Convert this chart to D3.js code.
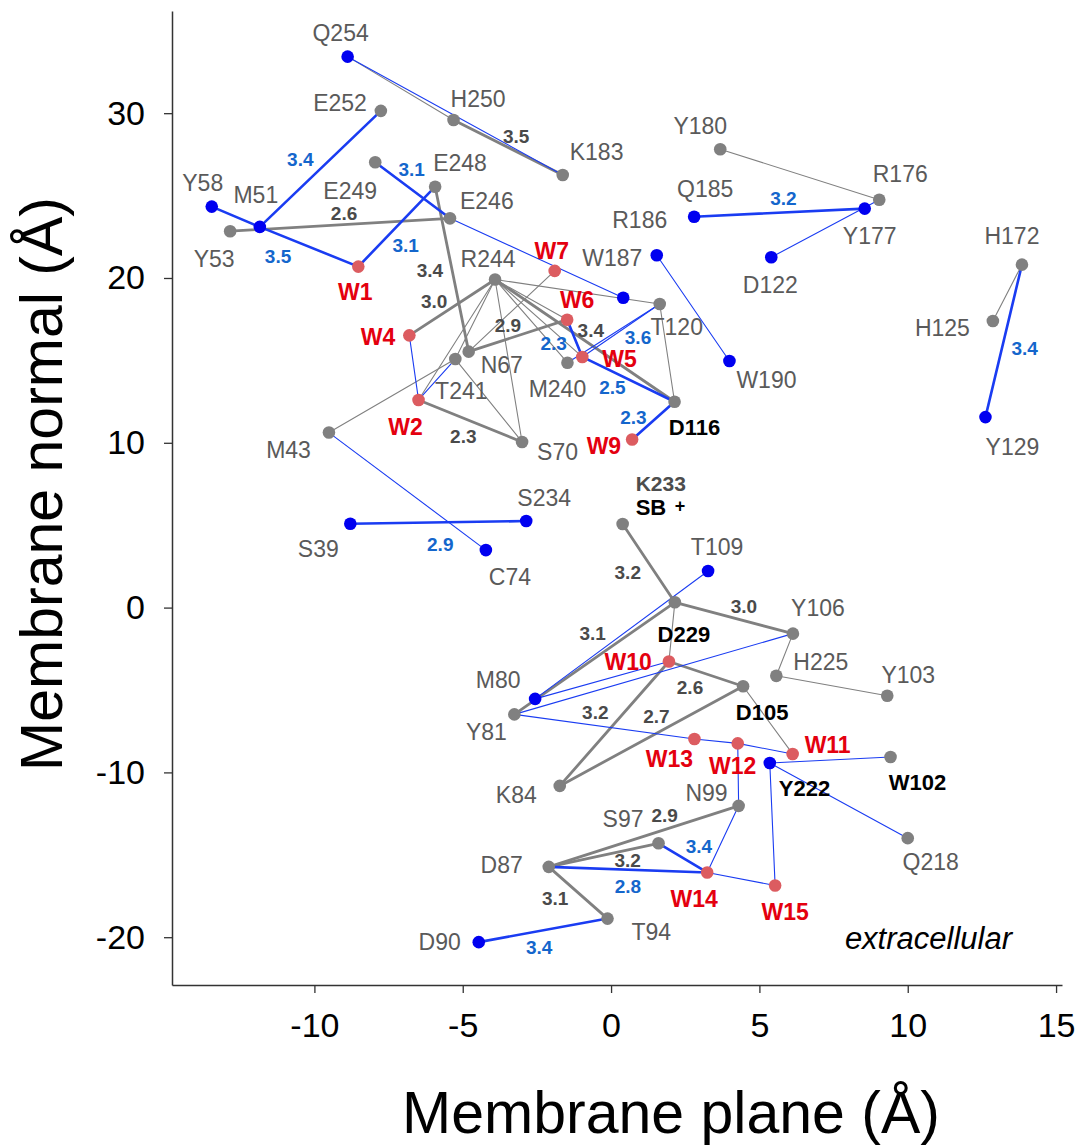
<!DOCTYPE html>
<html>
<head>
<meta charset="utf-8">
<script src="https://cdn.jsdelivr.net/npm/d3@7"></script>
<style>
  body { margin: 0; background: #fff; }
  svg text { font-family: "Liberation Sans", Arial, Helvetica, sans-serif; }
</style>
</head>
<body>
<svg id="chart" width="1081" height="1146"></svg>
<script>
// residues (membrane plane x, membrane normal y), in Angstrom
const blueRes = [
  ["Q254", -8.88, 33.43], ["Y58", -13.46, 24.33], ["M51", -11.84, 23.10],
  ["W187", 0.41, 18.80], ["R186", 1.54, 21.38], ["Q185", 2.80, 23.72],
  ["Y177", 8.55, 24.21], ["D122", 5.40, 21.26], ["W190", 3.99, 14.96],
  ["Y129", 12.62, 11.56], ["S39", -8.79, 5.09], ["S234", -2.86, 5.25],
  ["C74", -4.22, 3.49], ["T109", 3.27, 2.22], ["M80", -2.56, -5.54],
  ["Y222", 5.35, -9.43], ["D90", -4.46, -20.30]
];
const grayRes = [
  ["E252", -7.76, 30.14], ["H250", -5.31, 29.59], ["K183", -1.63, 26.25],
  ["E249", -7.95, 27.02], ["E248", -5.93, 25.54], ["E246", -5.43, 23.62],
  ["Y53", -12.84, 22.84], ["R244", -3.91, 19.91], ["Y180", 3.68, 27.81],
  ["R176", 9.04, 24.75], ["H172", 13.85, 20.81], ["H125", 12.87, 17.39],
  ["T120", 1.64, 18.42], ["D116", 2.14, 12.49], ["N67", -4.80, 15.53],
  ["T241", -5.25, 15.08], ["M240", -1.47, 14.86], ["S70", -3.00, 10.05],
  ["M43", -9.51, 10.62], ["K233", 0.39, 5.07], ["D229", 2.15, 0.32],
  ["Y106", 6.13, -1.58], ["H225", 5.57, -4.14], ["D105", 4.45, -4.77],
  ["Y103", 9.31, -5.35], ["Y81", -3.26, -6.48], ["W102", 9.42, -9.07],
  ["K84", -1.73, -10.82], ["N99", 4.30, -12.03], ["Q218", 10.00, -13.99],
  ["S97", 1.60, -14.30], ["D87", -2.10, -15.73], ["T94", -0.12, -18.87]
];
const waters = [
  ["W1", -8.52, 20.69], ["W7", -1.90, 20.43], ["W6", -1.48, 17.47],
  ["W4", -6.80, 16.52], ["W5", -0.97, 15.21], ["W2", -6.49, 12.60],
  ["W9", 0.71, 10.20], ["W10", 1.95, -3.27], ["W13", 2.81, -7.97],
  ["W12", 4.27, -8.24], ["W11", 6.12, -8.88], ["W14", 3.24, -16.07],
  ["W15", 5.53, -16.86]
];

// contacts: [from, to, distance label or ""]
const grayThick = [
  ["H250", "K183", "3.5"], ["Y53", "E246", "2.6"], ["E248", "N67", "3.4"],
  ["R244", "W4", "3.0"], ["N67", "W6", "2.9"], ["R244", "D116", "3.4"],
  ["W2", "S70", "2.3"], ["K233", "D229", "3.2"], ["Y81", "D229", "3.1"],
  ["D229", "Y106", "3.0"], ["W10", "D105", "2.6"], ["K84", "W10", "3.2"],
  ["K84", "D105", "2.7"], ["D87", "N99", "2.9"], ["D87", "S97", "3.2"],
  ["D87", "T94", "3.1"]
];
const grayThin = [
  ["Q254", "H250"], ["R244", "T241"], ["R244", "W2"], ["R244", "S70"],
  ["R244", "T120"], ["R244", "W6"], ["R244", "M240"], ["R244", "W5"],
  ["W7", "N67"], ["M43", "T241"], ["T241", "S70"], ["T120", "D116"],
  ["Y180", "R176"], ["H172", "H125"], ["D229", "W10"], ["Y106", "H225"],
  ["H225", "Y103"], ["D105", "W11"]
];
const blueThick = [
  ["M51", "E252", "3.4"], ["Y58", "M51", ""], ["M51", "W1", "3.5"],
  ["W1", "E248", "3.1"], ["E249", "E246", "3.1"], ["Q185", "Y177", "3.2"],
  ["H172", "Y129", "3.4"], ["W6", "W5", "2.3"], ["W5", "D116", "2.5"],
  ["W9", "D116", "2.3"], ["S39", "S234", "2.9"], ["S97", "W14", "3.4"],
  ["D87", "W14", "2.8"], ["D90", "T94", "3.4"]
];
const blueThin = [
  ["Q254", "K183"], ["E246", "W187"], ["W4", "W2"], ["W2", "T241"],
  ["W5", "T120", "3.6"], ["M240", "T120"], ["R186", "W190"], ["D122", "R176"],
  ["M43", "C74"], ["M80", "T109"], ["M80", "W10"], ["Y81", "Y106"],
  ["Y81", "W13"], ["W13", "W12"], ["W12", "W11"], ["Y222", "W102"],
  ["Y222", "Q218"], ["Y222", "W15"], ["W12", "N99"], ["N99", "W14"],
  ["W14", "W15"]
];

const xTicks = [-10, -5, 0, 5, 10, 15];
const yTicks = [-20, -10, 0, 10, 20, 30];
const boldBlack = ["D116", "D229", "D105", "Y222", "W102"];

// label placement: [anchor, dx, dy] in px from the dot
const labelPos = {
  Q254: ["middle", -7, -16], E252: ["end", -14, 0], H250: ["start", -3, -13],
  K183: ["start", 7, -15], E249: ["middle", -25, 37], E248: ["start", -2, -16],
  E246: ["start", 10, -9], Y58: ["middle", -9, -16], M51: ["middle", -4, -24],
  Y53: ["middle", -16, 36], W1: ["middle", -3, 33], W7: ["middle", -3, -12],
  R244: ["middle", -7, -12], W187: ["middle", -11, -32], R186: ["middle", -17, -27],
  T120: ["middle", 17, 31], Y180: ["middle", -20, -15], R176: ["middle", 21, -18],
  Q185: ["middle", 11, -20], Y177: ["middle", 5, 35], D122: ["middle", -1, 36],
  H172: ["middle", -10, -21], H125: ["end", -23, 15], Y129: ["middle", 27, 38],
  W190: ["middle", 37, 27], D116: ["middle", 20, 33], W9: ["end", -11, 15],
  W6: ["middle", 10, -12], W4: ["end", -14, 10], N67: ["start", 12, 21],
  T241: ["middle", 6, 40], M240: ["middle", -10, 34], W5: ["start", 20, 10],
  W2: ["middle", -13, 35], S70: ["start", 15, 18], M43: ["end", -18, 25],
  S39: ["middle", -32, 33], S234: ["middle", 18, -15], C74: ["middle", 24, 35],
  K233: ["start", 13, -33], T109: ["middle", 9, -16], D229: ["middle", 9, 40],
  Y106: ["middle", 25, -18], W10: ["end", -17, 9], H225: ["start", 17, -6],
  Y103: ["middle", 21, -13], D105: ["middle", 19, 34], M80: ["middle", -37, -11],
  Y81: ["middle", -28, 26], W13: ["middle", -25, 28], W12: ["middle", -5, 31],
  W11: ["start", 12, -1], Y222: ["start", 9, 33], W102: ["middle", 27, 33],
  K84: ["end", -23, 17], N99: ["end", -11, -5], S97: ["end", -15, -16],
  D87: ["end", -26, 6], W14: ["middle", -13, 35], W15: ["middle", 10, 35],
  T94: ["start", 24, 21], D90: ["end", -18, 8], Q218: ["middle", 23, 32]
};
// distance label offset from the contact midpoint, px
const distPos = {
  "M51-E252": [-20, -3], "H250-K183": [8, -4], "E249-E246": [-1, -14],
  "Y53-E246": [4, -5], "W1-E248": [9, 25], "M51-W1": [-31, 16],
  "E248-N67": [-22, 8], "R244-W4": [-18, 1], "N67-W6": [-10, -4],
  "R244-D116": [6, -4], "W6-W5": [-21, 12], "W5-T120": [17, 14],
  "W5-D116": [-16, 15], "W9-D116": [-20, 3], "W2-S70": [-7, 22],
  "Q185-Y177": [4, -8], "H172-Y129": [21, 14], "S39-S234": [2, 29],
  "K233-D229": [-21, 16], "Y81-D229": [-2, -18], "D229-Y106": [10, -5],
  "W10-D105": [-16, 20], "K84-W10": [-19, -5], "K84-D105": [5, -13],
  "D87-N99": [21, -14], "D87-S97": [24, 12], "S97-W14": [16, -5],
  "D87-W14": [0, 23], "D87-T94": [-23, 12], "D90-T94": [-4, 24]
};

const GRAY = '#808080';
const BLUE_LINE = '#1a3cf2';
const BLUE_DOT = '#0000f0';
const RED_DOT = '#dc5c60';
const RED_TXT = '#e4000f';
const RES_TXT = '#5a5a5a';
const DIST_GRAY = '#4a4a4a';
const DIST_BLUE = '#1466cc';

(function() {
    var svg = d3.select('#chart');

    var x = d3.scaleLinear().domain([-14.8, 15.2]).range([172, 1062]);
    var y = d3.scaleLinear().domain([-22.9, 36.2]).range([985, 11]);

    var pos = {};
    blueRes.concat(grayRes, waters).forEach(function(d) {
        pos[d[0]] = [x(d[1]), y(d[2])];
    });

    // axes (plain hyphen for negatives, like the original)
    var fmt = function(d) { return String(d); };
    var xAxis = svg.append('g')
        .attr('transform', 'translate(0,985)')
        .call(d3.axisBottom(x).tickValues(xTicks).tickFormat(fmt)
            .tickSize(8).tickSizeOuter(0).tickPadding(20));
    var yAxis = svg.append('g')
        .attr('transform', 'translate(172,0)')
        .call(d3.axisLeft(y).tickValues(yTicks).tickFormat(fmt)
            .tickSize(8).tickSizeOuter(0).tickPadding(19));
    [xAxis, yAxis].forEach(function(a) {
        a.select('.domain').attr('stroke', '#333').attr('stroke-width', 1.5);
        a.selectAll('.tick line').attr('stroke', '#333').attr('stroke-width', 1.3);
        a.selectAll('.tick text').attr('fill', '#000')
            .style('font-family', '"Liberation Sans", Arial, sans-serif')
            .style('font-size', '34px');
    });

    svg.append('text')
        .attr('x', 671).attr('y', 1133)
        .attr('text-anchor', 'middle')
        .style('font-size', '59px')
        .text('Membrane plane (Å)');
    svg.append('text')
        .attr('transform', 'translate(62,484) rotate(-90)')
        .attr('text-anchor', 'middle')
        .style('font-size', '59px')
        .text('Membrane normal (Å)');

    // contacts
    var gEdges = svg.append('g');
    function drawEdges(list, color, width) {
        gEdges.selectAll(null).data(list).enter().append('line')
            .attr('x1', function(d) { return pos[d[0]][0]; })
            .attr('y1', function(d) { return pos[d[0]][1]; })
            .attr('x2', function(d) { return pos[d[1]][0]; })
            .attr('y2', function(d) { return pos[d[1]][1]; })
            .style('stroke', color)
            .style('stroke-width', width)
            .style('stroke-linecap', 'round');
    }
    drawEdges(grayThin, GRAY, 1.1);
    drawEdges(grayThick, GRAY, 2.8);
    drawEdges(blueThin, BLUE_LINE, 1.1);
    drawEdges(blueThick, BLUE_LINE, 2.6);

    // dots
    var gDots = svg.append('g');
    function drawDots(list, color) {
        gDots.selectAll(null).data(list).enter().append('circle')
            .attr('cx', function(d) { return x(d[1]); })
            .attr('cy', function(d) { return y(d[2]); })
            .attr('r', 6.3)
            .style('fill', color);
    }
    drawDots(grayRes, GRAY);
    drawDots(blueRes, BLUE_DOT);
    drawDots(waters, RED_DOT);

    // residue labels
    var gLab = svg.append('g');
    var waterNames = waters.map(function(d) { return d[0]; });
    Object.keys(labelPos).forEach(function(name) {
        var lp = labelPos[name];
        var t = gLab.append('text')
            .attr('x', pos[name][0] + lp[1])
            .attr('y', pos[name][1] + lp[2])
            .attr('text-anchor', lp[0])
            .style('font-size', '23px')
            .text(name);
        if (waterNames.indexOf(name) >= 0) {
            t.style('fill', RED_TXT).style('font-weight', 'bold');
        } else if (boldBlack.indexOf(name) >= 0) {
            t.style('fill', '#000').style('font-weight', 'bold').style('font-size', '22px');
        } else if (name === 'K233') {
            t.style('fill', '#4d4d4d').style('font-weight', 'bold').style('font-size', '21px');
        } else {
            t.style('fill', RES_TXT);
        }
    });
    // Schiff base tag under K233
    gLab.append('text')
        .attr('x', pos['K233'][0] + 13).attr('y', pos['K233'][1] - 9)
        .style('font-size', '22px').style('font-weight', 'bold').style('fill', '#000')
        .text('SB');
    gLab.append('text')
        .attr('x', pos['K233'][0] + 52).attr('y', pos['K233'][1] - 12)
        .style('font-size', '18px').style('font-weight', 'bold').style('fill', '#000')
        .text('+');

    // distance labels
    function drawDist(list, color) {
        list.forEach(function(d) {
            if (!d[2]) return;
            var off = distPos[d[0] + '-' + d[1]] || [0, 0];
            var mx = (pos[d[0]][0] + pos[d[1]][0]) / 2;
            var my = (pos[d[0]][1] + pos[d[1]][1]) / 2;
            gLab.append('text')
                .attr('x', mx + off[0]).attr('y', my + off[1])
                .attr('text-anchor', 'middle')
                .style('font-size', '19px').style('font-weight', 'bold')
                .style('fill', color)
                .text(d[2]);
        });
    }
    drawDist(grayThick, DIST_GRAY);
    drawDist(blueThick, DIST_BLUE);
    drawDist(blueThin, DIST_BLUE);

    svg.append('text')
        .attr('x', 1012).attr('y', 949)
        .attr('text-anchor', 'end')
        .style('font-size', '31px').style('font-style', 'italic')
        .text('extracellular');
})();
</script>
</body>
</html>
